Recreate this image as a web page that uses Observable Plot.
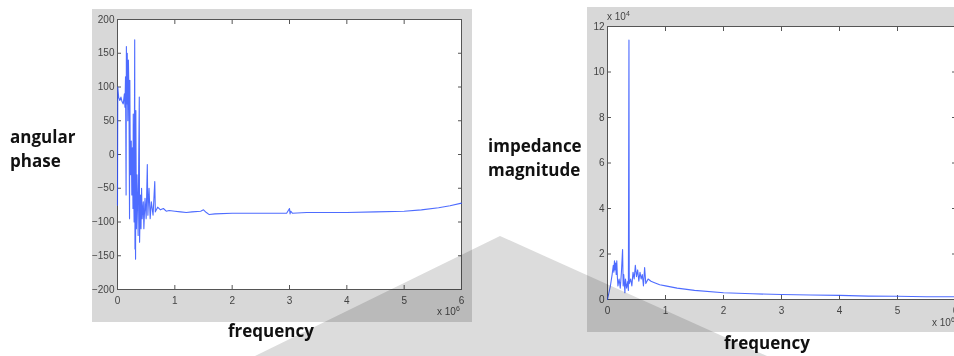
<!DOCTYPE html>
<html><head><meta charset="utf-8">
<script src="https://cdn.jsdelivr.net/npm/d3@7"></script>
<script src="https://cdn.jsdelivr.net/npm/@observablehq/plot@0.6"></script>
<style>
body{margin:0;width:954px;height:356px;overflow:hidden;background:#fff;position:relative;font-family:"Open Sans",sans-serif}
.panel{position:absolute;background:#d8d8d8;overflow:hidden}
.panel svg{position:absolute;left:0;top:0;background:transparent;max-width:none !important}
.lbl{position:absolute;font-weight:bold;font-size:17px;color:#111;line-height:24px;white-space:nowrap}
.exp{position:absolute;font-family:"Liberation Sans",sans-serif;font-size:10px;color:#444;white-space:nowrap}
.exp sup{font-size:7px}
#wm{position:absolute;left:0;top:0;mix-blend-mode:multiply;pointer-events:none}
</style></head><body>
<div id="p1" class="panel" style="left:92px;top:9px;width:380px;height:313px"></div>
<div id="p2" class="panel" style="left:587px;top:7px;width:367px;height:325px"></div>
<div class="lbl" style="left:10px;top:125px">angular<br>phase</div>
<div class="lbl" style="left:488px;top:134px">impedance<br>magnitude</div>
<div class="lbl" style="left:228px;top:319px">frequency</div>
<div class="lbl" style="left:724px;top:331px">frequency</div>
<div class="exp" style="left:437px;top:305px">x 10<sup>6</sup></div>
<div class="exp" style="left:932px;top:316px">x 10<sup>6</sup></div>
<div class="exp" style="left:607px;top:10px">x 10<sup>4</sup></div>
<svg id="wm" width="954" height="356"><polygon points="500,236 255,356 767,356" fill="#dcdcdc"/></svg>
<script>
// Left: angular phase (degrees) vs frequency (x 10^6)
const phaseFreq = [0,0.005,0.02,0.04,0.06,0.08,0.10,0.12,0.13,0.14,0.15,0.155,0.16,0.17,0.18,0.19,0.20,0.21,0.215,0.22,0.23,0.24,0.25,0.26,0.27,0.275,0.28,0.29,0.30,0.305,0.31,0.315,0.32,0.33,0.34,0.35,0.36,0.37,0.38,0.385,0.40,0.41,0.42,0.43,0.45,0.46,0.48,0.50,0.52,0.53,0.55,0.57,0.59,0.62,0.65,0.66,0.70,0.75,0.8,0.85,0.9,1.0,1.1,1.2,1.3,1.45,1.5,1.55,1.6,1.7,2.0,2.5,2.95,3.0,3.01,3.02,3.05,3.3,3.5,4.0,4.5,5.0,5.3,5.6,5.8,6.0];
const phaseVal = [-75,100,85,80,85,78,75,90,70,115,-60,160,75,150,50,140,90,-95,110,30,-30,20,-60,10,-80,60,-40,-100,170,-140,-60,-155,65,-110,-30,-70,-120,-10,85,-130,-60,-110,-50,-95,-70,-110,-65,-95,-15,-90,-50,-95,-70,-90,-40,-85,-78,-82,-80,-84,-83,-84,-85,-86,-85,-84,-82,-86,-89,-88,-87,-87,-87,-80,-88,-84,-87,-86,-86,-86,-85,-84,-82,-79,-76,-72];
const phaseYTicks = [-200,-150,-100,-50,0,50,100,150,200];
const freqTicks = [0,1,2,3,4,5,6];

// Right: impedance magnitude (x 10^4) vs frequency (x 10^6)
const magFreq = [0,0.05,0.08,0.10,0.11,0.12,0.13,0.14,0.15,0.16,0.17,0.18,0.20,0.22,0.24,0.26,0.27,0.28,0.30,0.31,0.33,0.35,0.36,0.37,0.375,0.40,0.42,0.44,0.46,0.48,0.50,0.52,0.54,0.56,0.58,0.60,0.62,0.64,0.66,0.70,0.75,0.80,0.9,1.0,1.2,1.5,2.0,2.5,3.0,3.5,4.0,4.5,5.0,5.5,6.0];
const magVal = [0,0.6,1.1,1.5,1.2,1.7,1.3,1.6,1.1,1.7,1.0,0.6,0.9,0.5,1.2,2.2,0.6,1.1,0.3,0.9,0.5,0.8,0.4,11.4,0.7,0.9,0.6,1.2,0.9,1.5,1.0,1.3,0.8,1.2,0.9,1.1,0.6,1.4,0.7,0.9,0.8,0.75,0.65,0.6,0.5,0.4,0.3,0.25,0.22,0.2,0.18,0.15,0.14,0.12,0.12];
const magYTicks = [0,2,4,6,8,10,12];

const lineColor = "#2f52ff";
const tickFont = {fontFamily:"'Liberation Sans',sans-serif", fontSize:"10px", color:"#444", maxWidth:"none"};

function matlabAxes(xTicks, yTicks) {
  return [
    Plot.frame({stroke:"#555", fill:"white"}),
    Plot.axisX(xTicks, {anchor:"bottom", label:null, tickSize:-4, tickPadding:11, stroke:"#555", fill:"#444"}),
    Plot.axisX(xTicks, {anchor:"top", label:null, tickSize:-4, tickFormat:() => "", stroke:"#555"}),
    Plot.axisY(yTicks, {anchor:"left", label:null, tickSize:-4, tickPadding:7, stroke:"#555", fill:"#444"}),
    Plot.axisY(yTicks, {anchor:"right", label:null, tickSize:-4, tickFormat:() => "", stroke:"#555"})
  ];
}

const phaseData = phaseFreq.map((f,i) => ({f, v: phaseVal[i]}));
const p1 = Plot.plot({
  width:380, height:313,
  marginLeft:25, marginRight:11, marginTop:10, marginBottom:33,
  style: tickFont,
  x:{domain:[0,6], axis:null},
  y:{domain:[-200,200], axis:null},
  marks:[
    ...matlabAxes(freqTicks, phaseYTicks),
    Plot.line(phaseData, {x:"f", y:"v", stroke:lineColor, strokeWidth:1.1, strokeOpacity:0.85})
  ]
});
document.getElementById("p1").appendChild(p1);

const magData = magFreq.map((f,i) => ({f, v: magVal[i]}));
const p2 = Plot.plot({
  width:380, height:325,
  marginLeft:20, marginRight:12, marginTop:19, marginBottom:33,
  style: tickFont,
  x:{domain:[0,6], axis:null},
  y:{domain:[0,12], axis:null},
  marks:[
    ...matlabAxes(freqTicks, magYTicks),
    Plot.line(magData, {x:"f", y:"v", stroke:lineColor, strokeWidth:1.1, strokeOpacity:0.85})
  ]
});
document.getElementById("p2").appendChild(p2);
</script>
</body></html>
